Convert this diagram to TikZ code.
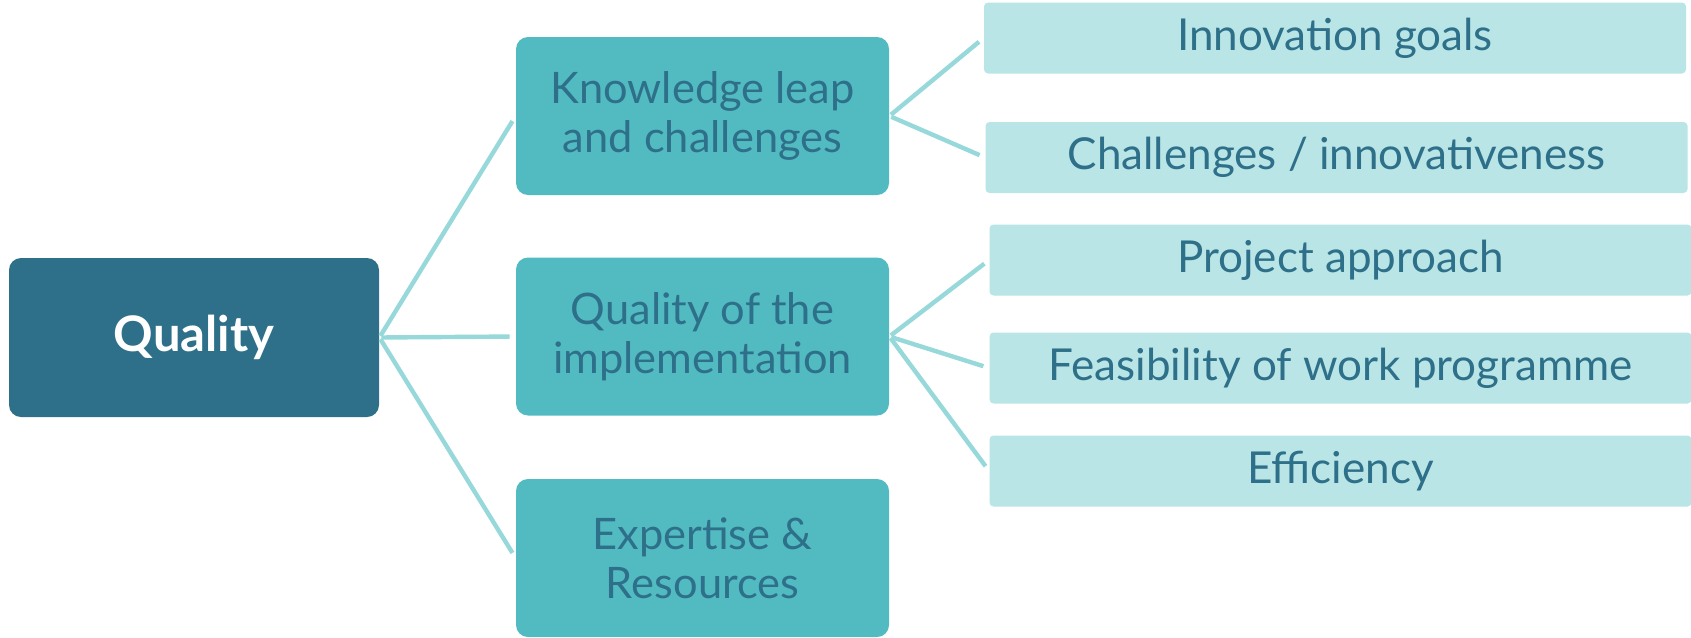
\documentclass[tikz,border=0pt]{standalone}
\usepackage{fontspec}
\setmainfont{Lato}
\definecolor{darkteal}{HTML}{2E7089}
\definecolor{midteal}{HTML}{52BBC2}
\definecolor{paleteal}{HTML}{B9E5E6}
\definecolor{linkteal}{HTML}{97D8DB}
\tikzset{
  rootbox/.style={fill=darkteal, text=white, rounded corners=6pt, minimum width=185pt, minimum height=79.5pt, font=\fontsize{24.5}{27}\selectfont\bfseries},
  midbox/.style={fill=midteal, text=darkteal, rounded corners=6pt, minimum width=186.5pt, minimum height=79pt, align=center, font=\fontsize{21.7}{24.5}\selectfont},
  leafbox/.style={fill=paleteal, text=darkteal, rounded corners=2pt, minimum width=351pt, minimum height=35.5pt, font=\fontsize{22}{25}\selectfont},
  link/.style={linkteal, line width=2.2pt, shorten <=1pt, shorten >=3pt}
}
\begin{document}
\begin{tikzpicture}[x=0.5pt, y=-0.5pt]
    \useasboundingbox (0,0) rectangle (1691,637);
    \node[rootbox] (quality) at (194,337.5) {Quality};
    \node[midbox] (knowledge) at (702.5,116) {Knowledge leap\\and challenges};
    \node[midbox] (implement) at (702.5,336.5) {Quality of the\\implementation};
    \node[midbox] (expertise) at (702.5,558) {Expertise \&\\Resources};
    \node[leafbox] (goals) at (1335,38) {Innovation goals};
    \node[leafbox] (novelty) at (1336.5,157.5) {Challenges / innovativeness};
    \node[leafbox] (approach) at (1340.5,260) {Project approach};
    \node[leafbox] (feasible) at (1340.5,368) {Feasibility of work programme};
    \node[leafbox] (efficiency) at (1340.5,471) {Efficiency};
    % Links from the root
    \draw[link] (quality.east) -- (knowledge.west);
    \draw[link] (quality.east) -- (implement.west);
    \draw[link] (quality.east) -- (expertise.west);
    % Links to the leaves
    \draw[link] (knowledge.east) -- (goals.west); \draw[link] (knowledge.east) -- (novelty.west);
    \draw[link] (implement.east) -- (approach.west); \draw[link] (implement.east) -- (feasible.west); \draw[link] (implement.east) -- (efficiency.west);
\end{tikzpicture}
\end{document}
